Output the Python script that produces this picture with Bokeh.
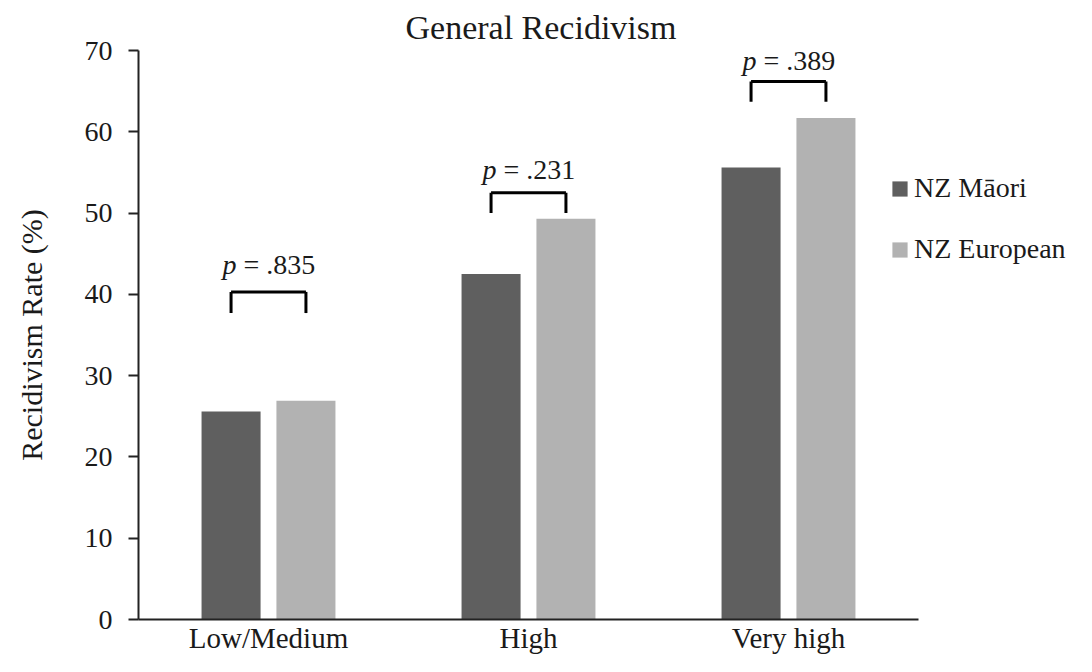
from bokeh.plotting import figure
from bokeh.models import ColumnDataSource, Range1d, Legend, LegendItem, FixedTicker
from bokeh.transform import dodge
from bokeh.core.properties import value
from bokeh.embed import file_html
from bokeh.resources import INLINE

categories = ["Low/Medium", "High", "Very high"]
maori = [25.6, 42.5, 55.6]
european = [26.9, 49.3, 61.7]
p_values = [".835", ".231", ".389"]
bracket_top = [40.3, 52.5, 66.2]
bracket_bottom = [37.7, 50.0, 63.7]
p_label_y = [43.7, 55.3, 68.8]
y_ticks = [0, 10, 20, 30, 40, 50, 60, 70]

FONT = "Liberation Serif"
DARK = "#5f5f5f"
LIGHT = "#b2b2b2"
INK = "#1a1a1a"

xpos = [i + 0.5 for i in range(len(categories))]

src = ColumnDataSource(dict(
    x=xpos, cat=categories, maori=maori, european=european,
    p=["p"] * len(categories), pv=["= " + v for v in p_values],
    top=bracket_top, bottom=bracket_bottom, ly=p_label_y,
))

W, H = 1076, 656
LEFT, TOP = 138, 50
BAND = 260  # px per category band
x_end = (W - LEFT) / BAND

p = figure(
    width=W, height=H,
    x_range=Range1d(0, x_end),
    y_range=Range1d(0, 70),
    output_backend="svg", toolbar_location=None,
    min_border_left=LEFT, min_border_right=0,
    min_border_top=TOP, min_border_bottom=36,
    title="General Recidivism",
)
p.outline_line_color = None
p.grid.grid_line_color = None
p.background_fill_color = "white"

p.title.align = "left"
p.title.offset = 267
p.title.text_font = FONT
p.title.text_font_size = "34px"
p.title.text_font_style = "normal"
p.title.text_color = INK
p.title.standoff = 10

off = 0.144
bw = 0.227
r1 = p.vbar(x=dodge("x", -off), top="maori", width=bw,
            source=src, fill_color=DARK, line_color=None)
r2 = p.vbar(x=dodge("x", off), top="european", width=bw,
            source=src, fill_color=LIGHT, line_color=None)

# significance brackets
xl = dodge("x", -off)
xr = dodge("x", off)
p.segment(x0=xl, y0="top", x1=xr, y1="top", source=src, line_color="black", line_width=3)
p.segment(x0=xl, y0="top", x1=xl, y1="bottom", source=src, line_color="black", line_width=3)
p.segment(x0=xr, y0="top", x1=xr, y1="bottom", source=src, line_color="black", line_width=3)

p.text(x="x", y="ly", text="p", source=src, x_offset=-46,
       text_font=value(FONT), text_font_size="28px", text_font_style="italic",
       text_align="left", text_baseline="middle", text_color=INK)
p.text(x="x", y="ly", text="pv", source=src, x_offset=-25,
       text_font=value(FONT), text_font_size="28px",
       text_align="left", text_baseline="middle", text_color=INK)

# y axis
p.yaxis.ticker = y_ticks
p.yaxis.axis_label = "Recidivism Rate (%)"
p.yaxis.axis_label_text_font = FONT
p.yaxis.axis_label_text_font_size = "30px"
p.yaxis.axis_label_text_font_style = "normal"
p.yaxis.axis_label_text_color = INK
p.yaxis.axis_label_standoff = 34
p.yaxis.major_label_text_font = FONT
p.yaxis.major_label_text_font_size = "28px"
p.yaxis.major_label_text_color = INK
p.yaxis.major_label_standoff = 16
p.yaxis.major_tick_out = 10
p.yaxis.major_tick_in = 0
p.yaxis.minor_tick_line_color = None
p.yaxis.axis_line_color = "#222222"
p.yaxis.axis_line_width = 2
p.yaxis.major_tick_line_color = "#222222"
p.yaxis.major_tick_line_width = 2

# x axis (category bands)
p.xaxis.ticker = FixedTicker(ticks=xpos)
p.xaxis.major_label_overrides = {x: c for x, c in zip(xpos, categories)}
p.xaxis.bounds = (0, len(categories))
p.xaxis.minor_tick_line_color = None
p.xaxis.major_label_text_font = FONT
p.xaxis.major_label_text_font_size = "29px"
p.xaxis.major_label_text_color = INK
p.xaxis.major_label_standoff = 2
p.xaxis.major_tick_line_color = None
p.xaxis.major_tick_out = 0
p.xaxis.major_tick_in = 0
p.xaxis.axis_line_color = "#222222"
p.xaxis.axis_line_width = 2

legend = Legend(
    items=[LegendItem(label="NZ Māori", renderers=[r1]),
           LegendItem(label="NZ European", renderers=[r2])],
    location=(752, 354),
    padding=0, margin=0, spacing=29,
    glyph_width=19, glyph_height=19, label_standoff=5, label_height=30,
    label_text_font=FONT, label_text_font_size="28px", label_text_color=INK,
    border_line_color=None, background_fill_alpha=0,
)
p.add_layout(legend, "center")

open("out.html", "w").write(file_html(p, INLINE))
